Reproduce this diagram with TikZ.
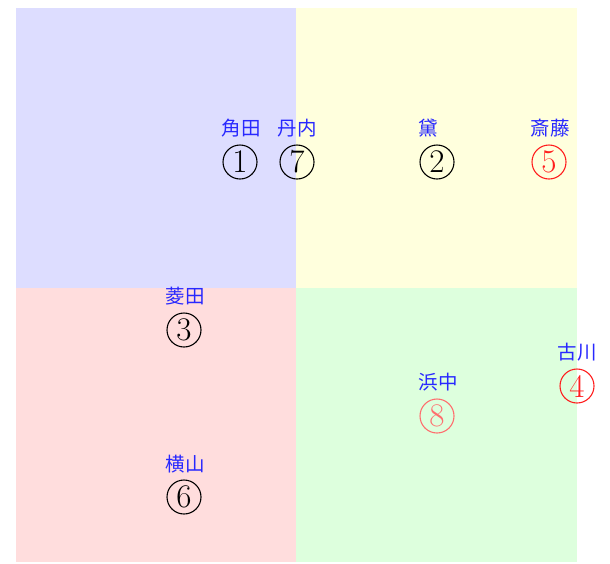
\documentclass[tikz,border=0pt]{standalone}
\usepackage{fontspec}
\newfontfamily\cjk{Noto Sans CJK JP}
\definecolor{qblue}{RGB}{221,221,255}
\definecolor{qyellow}{RGB}{255,255,221}
\definecolor{qred}{RGB}{255,221,221}
\definecolor{qgreen}{RGB}{221,255,221}
\definecolor{lblblue}{RGB}{40,40,255}
\definecolor{cred}{RGB}{255,30,30}
\definecolor{clight}{RGB}{255,110,110}
\tikzset{
  lbl/.style={text=lblblue, font=\cjk\fontsize{19.5}{19.5}\selectfont, inner sep=0pt},
  num/.style={circle, draw, line width=1.1pt, minimum size=34pt, inner sep=0pt,
     font=\fontsize{33}{33}\selectfont},
}
\begin{document}
\begin{tikzpicture}[x=1pt,y=-1pt]
\useasboundingbox (0,0) rectangle (610,563);
\fill[qblue] (16,8) rectangle (296,288);
\fill[qyellow] (296,8) rectangle (577,288);
\fill[qred] (16,288) rectangle (296,562);
\fill[qgreen] (296,288) rectangle (577,562);
% labels
\node[lbl] (l1) at (241,128) {角田};
\node[lbl] (l7) at (297,128) {丹内};
\node[lbl] (l2) at (428,128) {黛};
\node[lbl] (l5) at (550,128) {斎藤};
\node[lbl] (l3) at (185,296) {菱田};
\node[lbl] (l4) at (577,352) {古川};
\node[lbl] (l8) at (438,382) {浜中};
\node[lbl] (l6) at (185,464) {横山};
% numbers
\node[num] (n1) at (240,162) {1};
\node[num] (n7) at (297,162) {7};
\node[num] (n2) at (437,162) {2};
\node[num, draw=cred, text=cred] (n5) at (549,162) {5};
\node[num] (n3) at (184,330) {3};
\node[num, draw=cred, text=cred] (n4) at (577,386) {4};
\node[num, draw=clight, text=clight] (n8) at (437,416) {8};
\node[num] (n6) at (184,497) {6};
\end{tikzpicture}
\end{document}
